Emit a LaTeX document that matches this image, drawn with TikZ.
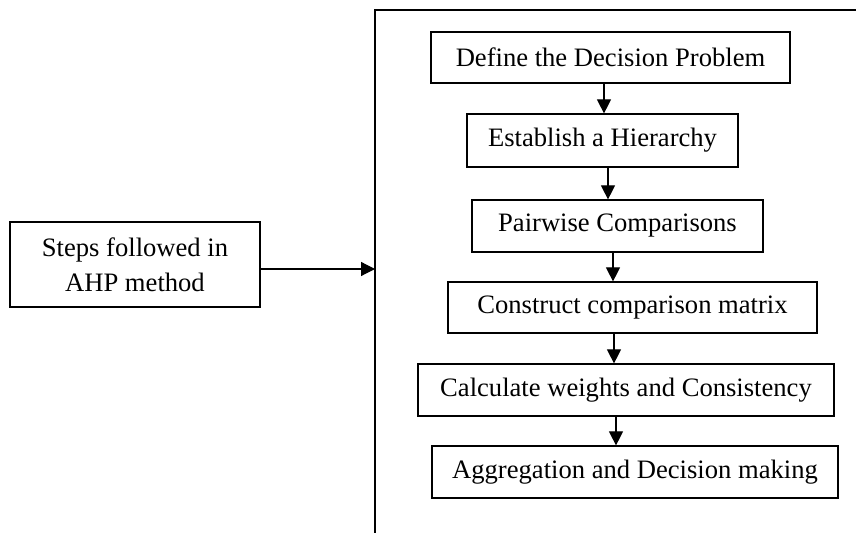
\documentclass[tikz,border=0pt]{standalone}
\usepackage{fontspec}
\setmainfont{Liberation Serif}
\usepackage{tikz}
\usetikzlibrary{positioning,arrows.meta,calc}

\begin{document}
\begin{tikzpicture}[
  x=0.5pt, y=-0.5pt,
  every node/.style={font=\fontsize{13.3}{17.5}\selectfont},
  stepbox/.style={draw, line width=0.6pt, inner sep=0pt, align=center},
  arr/.style={-{Triangle[length=7pt,width=7pt]}, line width=0.6pt}]
  \useasboundingbox (0,0) rectangle (856,533);
  % left box and frame
  \node[stepbox, minimum width=125pt, minimum height=42.5pt] (steps) at (135,264.5) {Steps followed in\\AHP method};
  \coordinate (fbot) at (375,533);
  \coordinate (ftop) at (375,10);
  \coordinate (fright) at (856,10);
  \draw[line width=0.6pt] (fbot) -- (ftop) -- (fright);
  \draw[arr] (steps.east |- 0,269) -- (ftop |- 0,269);
  % the six steps
  \node[stepbox, minimum width=179.5pt, minimum height=25.5pt] (define) at (610.5,57.5) {Define the Decision Problem};
  \node[stepbox, minimum width=135.5pt, minimum height=26.5pt] (hier) at (602.5,140.5) {Establish a Hierarchy};
  \node[stepbox, minimum width=145.5pt, minimum height=26pt] (pair) at (617.5,226) {Pairwise Comparisons};
  \node[stepbox, minimum width=184.5pt, minimum height=25.5pt] (matrix) at (632.5,307.5) {Construct comparison matrix};
  \node[stepbox, minimum width=208pt, minimum height=26pt] (weights) at (626,390) {Calculate weights and Consistency};
  \node[stepbox, minimum width=203pt, minimum height=26pt] (aggr) at (635,472) {Aggregation and Decision making};
  \draw[arr] (define.south -| 604,0) -- (hier.north -| 604,0);
  \draw[arr] (hier.south -| 608,0) -- (pair.north -| 608,0);
  \draw[arr] (pair.south -| 613,0) -- (matrix.north -| 613,0);
  \draw[arr] (matrix.south -| 614,0) -- (weights.north -| 614,0);
  \draw[arr] (weights.south -| 616,0) -- (aggr.north -| 616,0);
\end{tikzpicture}
\end{document}
